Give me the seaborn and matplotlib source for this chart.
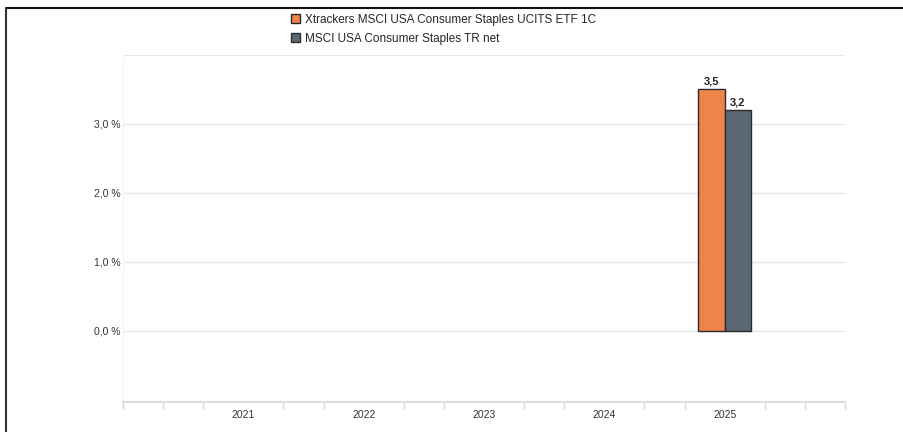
import numpy as np
import pandas as pd
import seaborn as sns
import matplotlib.pyplot as plt
from matplotlib.lines import Line2D
from matplotlib.ticker import FixedLocator, FuncFormatter

years = ["2021", "2022", "2023", "2024", "2025"]
fund_name = "Xtrackers MSCI USA Consumer Staples UCITS ETF 1C"
index_name = "MSCI USA Consumer Staples TR net"
fund_vals = [np.nan, np.nan, np.nan, np.nan, 3.5]
index_vals = [np.nan, np.nan, np.nan, np.nan, 3.2]

df = pd.DataFrame({
    "year": years * 2,
    "series": [fund_name] * len(years) + [index_name] * len(years),
    "value": fund_vals + index_vals,
})

sns.set_style("white")
plt.rcParams["font.family"] = ["Liberation Sans", "DejaVu Sans"]

fig = plt.figure(figsize=(9.04, 4.32), dpi=100)
ax = fig.add_axes([123 / 904, 1 - 402 / 432, (845 - 123) / 904, (402 - 55) / 432])

sns.barplot(data=df, x="year", y="value", hue="series", order=years,
            hue_order=[fund_name, index_name],
            palette=["#F0834A", "#596873"], saturation=1, width=0.44,
            edgecolor="#2b2b2b", linewidth=1.0, ax=ax, errorbar=None)

for cont in ax.containers:
    labels = ["" if np.isnan(v) else f"{v:.1f}".replace(".", ",") for v in cont.datavalues]
    ax.bar_label(cont, labels=labels, padding=2, fontsize=8, fontweight="bold", color="#222222")

ax.set_xlim(-1.0, 5)
ax.set_ylim(-1.03, 4)
ax.set_yticks([0, 1, 2, 3, 4])
ax.yaxis.set_major_formatter(FuncFormatter(lambda v, p: "" if v > 3.5 else f"{v:.1f} %".replace(".", ",")))
ax.grid(axis="y", color="#e6e6e6", linewidth=1)
ax.set_axisbelow(True)
ax.tick_params(axis="y", length=0, labelsize=7.5, labelcolor="#333333", pad=2)
ax.tick_params(axis="x", which="major", length=0, labelsize=7.5, labelcolor="#333333", pad=6)
minor = [i / 3 for i in range(-3, 16) if i % 3 != 0 or i in (-3, 15)]
ax.xaxis.set_minor_locator(FixedLocator(minor))
ax.tick_params(axis="x", which="minor", bottom=True, length=5, color="#d8d8d8", width=1)
ax.set_xlabel("")
ax.set_ylabel("")
for s in ["top", "right"]:
    ax.spines[s].set_visible(False)
ax.spines["left"].set_color("#f3f3f3")
ax.spines["bottom"].set_color("#dddddd")
ax.spines["bottom"].set_linewidth(1.5)

handles, labels = ax.get_legend_handles_labels()
ax.get_legend().remove()
fig.legend(handles, labels, loc="upper left", bbox_to_anchor=(286 / 904, 1 - 9 / 432),
           frameon=False, fontsize=8.5, handlelength=0.75, handleheight=0.75,
           handletextpad=0.5, labelspacing=0.6, borderaxespad=0)

fig.add_artist(Line2D([6 / 904, 1], [1 - 8 / 432, 1 - 8 / 432], color="#111111", linewidth=1.5))
fig.add_artist(Line2D([6.5 / 904, 6.5 / 904], [0, 1 - 8 / 432], color="#333333", linewidth=1.5))

plt.savefig("out.png", dpi=100)
